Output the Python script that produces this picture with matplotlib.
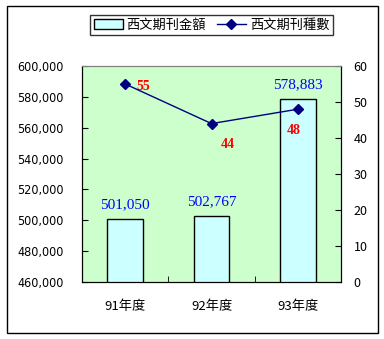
import matplotlib
matplotlib.use("Agg")
import matplotlib.pyplot as plt
from matplotlib.patches import Rectangle, Patch
from matplotlib.lines import Line2D
from matplotlib.ticker import FuncFormatter

plt.rcParams['font.family'] = ['Noto Sans CJK TC', 'DejaVu Sans']

years = ['91年度', '92年度', '93年度']
amount = [501050, 502767, 578883]
count = [55, 44, 48]
# offsets of the red count labels, in points
count_offsets = [(13, -2), (12, -15), (-3, -15)]

fig = plt.figure(figsize=(3.84, 3.39), dpi=100)
fig.patch.set_facecolor('white')
fig.patches.append(Rectangle((7 / 384, 1 - 333 / 339), 371 / 384, 327 / 339,
                             transform=fig.transFigure, fill=False,
                             edgecolor='black', linewidth=1.0))

ax = fig.add_axes([82 / 384, 1 - 282 / 339, 259 / 384, 216 / 339])
ax.set_facecolor('#CCFFCC')
x = range(len(years))
ax.bar(x, amount, width=0.41, color='#CCFFFF', edgecolor='black', linewidth=1.0, zorder=2)
ax.set_xlim(-0.5, 2.5)
ax.set_ylim(460000, 600000)
ax.set_yticks(range(460000, 600001, 20000))
ax.yaxis.set_major_formatter(FuncFormatter(lambda v, p: f'{int(v):,}'))
ax.set_xticks(list(x))
ax.set_xticklabels(years, fontsize=9.5)
ax.set_xticks([0.5, 1.5], minor=True)
ax.tick_params(axis='x', which='major', length=0, pad=13)
ax.tick_params(axis='x', which='minor', direction='in', length=4)
ax.tick_params(axis='y', direction='in', length=4, pad=13, labelsize=9)
for lab in ax.get_yticklabels():
    lab.set_family(['DejaVu Sans'])
    lab.set_stretch('condensed')

for xi, v in zip(x, amount):
    ax.annotate(f'{v:,}', (xi, v), xytext=(0, 10), textcoords='offset points',
                ha='center', va='center', color='#0000FF', fontsize=11,
                family='Liberation Serif', zorder=5)

for s in ['left', 'bottom', 'right']:
    ax.spines[s].set_color('black')
ax.spines['top'].set_color('#808080')

ax2 = ax.twinx()
ax2.set_ylim(0, 60)
ax2.set_yticks(range(0, 61, 10))
ax2.plot(list(x), count, color='#000080', linewidth=1.0, marker='D', markersize=5,
         zorder=4)
ax2.tick_params(axis='y', direction='in', length=4, pad=9, labelsize=9)
ax2.spines['top'].set_color('#808080')
for xi, v, off in zip(x, count, count_offsets):
    ax2.annotate(str(v), (xi, v), xytext=off, textcoords='offset points',
                 ha='center', va='center', color='#FF0000', fontsize=10,
                 fontweight='bold', family='Liberation Serif')

handles = [Patch(facecolor='#CCFFFF', edgecolor='black', linewidth=1.0),
           Line2D([], [], color='#000080', marker='D', markersize=5, linewidth=1.0)]
leg = fig.legend(handles, ['西文期刊金額', '西文期刊種數'], loc='center',
                 bbox_to_anchor=(211.5 / 384, 1 - 25 / 339), ncol=2, fontsize=9.5,
                 frameon=True, fancybox=False, edgecolor='black',
                 handlelength=2.2, handletextpad=0.3, columnspacing=0.8,
                 borderpad=0.3)
leg.get_frame().set_linewidth(1.0)

fig.savefig('out.png', dpi=100)
